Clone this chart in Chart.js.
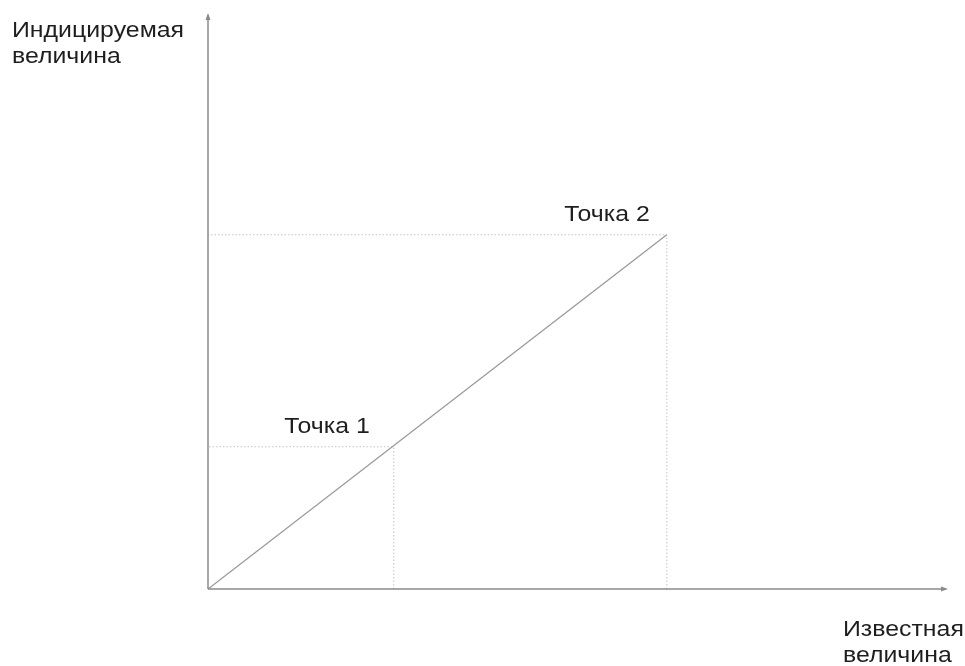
<!DOCTYPE html>
<html>
<head>
<meta charset="utf-8">
<script src="https://cdn.jsdelivr.net/npm/chart.js@4"></script>
<style>
html,body{margin:0;padding:0;background:#fff;}
#wrap{width:965px;height:666px;position:relative;}
</style>
</head>
<body>
<div id="wrap"><canvas id="c" width="965" height="666"></canvas></div>
<script>
// Data
const axisRange = [0, 10];
const pointNames = ["Точка 1", "Точка 2"];
const knownValues = [2.51, 6.2];      // x: известная величина
const indicatedValues = [2.47, 6.15]; // y: индицируемая величина
const yAxisTitle = ["Индицируемая", "величина"];
const xAxisTitle = ["Известная", "величина"];

const FONT = '22px "Liberation Sans", Arial, sans-serif';
const STRETCH = 1.13;

const mainLine = [{x: 0, y: 0}, {x: knownValues[1], y: indicatedValues[1]}];
const guides = knownValues.map((v, i) => [
  {x: v, y: 0}, {x: v, y: indicatedValues[i]}, {x: 0, y: indicatedValues[i]}
]);

function wideText(ctx, txt, x, y, align) {
  const w = ctx.measureText(txt).width * STRETCH;
  const left = align === 'right' ? x - w : x;
  ctx.save();
  ctx.translate(left, y);
  ctx.scale(STRETCH, 1);
  ctx.textAlign = 'left';
  ctx.fillText(txt, 0, 0);
  ctx.restore();
}

const decor = {
  id: 'decor',
  afterDatasetsDraw(chart) {
    const ctx = chart.ctx;
    const a = chart.chartArea;
    const xs = chart.scales.x, ys = chart.scales.y;
    const ox = xs.getPixelForValue(0), oy = ys.getPixelForValue(0);
    ctx.save();
    // axes
    ctx.strokeStyle = '#8a8a8a';
    ctx.fillStyle = '#8a8a8a';
    ctx.lineWidth = 1.5;
    ctx.beginPath();
    ctx.moveTo(ox, oy); ctx.lineTo(a.right - 2, oy);
    ctx.moveTo(ox, oy); ctx.lineTo(ox, a.top + 2);
    ctx.stroke();
    // arrowheads
    ctx.beginPath();
    ctx.moveTo(a.right, oy); ctx.lineTo(a.right - 7, oy - 2.5); ctx.lineTo(a.right - 7, oy + 2.5); ctx.closePath();
    ctx.fill();
    ctx.beginPath();
    ctx.moveTo(ox, a.top); ctx.lineTo(ox - 2.5, a.top + 7); ctx.lineTo(ox + 2.5, a.top + 7); ctx.closePath();
    ctx.fill();
    // texts
    ctx.fillStyle = '#1e1e1e';
    ctx.font = FONT;
    ctx.textBaseline = 'alphabetic';
    wideText(ctx, yAxisTitle[0], 12, 37);
    wideText(ctx, yAxisTitle[1], 12, 63);
    wideText(ctx, xAxisTitle[0], 843, 636);
    wideText(ctx, xAxisTitle[1], 843, 662);
    const offs = [-24, -17];
    pointNames.forEach((n, i) => {
      const px = xs.getPixelForValue(knownValues[i]);
      const py = ys.getPixelForValue(indicatedValues[i]);
      wideText(ctx, n, px + offs[i], py - 14, 'right');
    });
    ctx.restore();
  }
};

new Chart(document.getElementById('c'), {
  type: 'scatter',
  data: {
    datasets: [
      {data: mainLine, showLine: true, borderColor: '#9a9a9a', borderWidth: 1.3, pointRadius: 0},
      ...guides.map(g => ({data: g, showLine: true, borderColor: '#c4c4c4', borderWidth: 1, borderDash: [1.5, 2], pointRadius: 0}))
    ]
  },
  options: {
    responsive: false,
    animation: false,
    events: [],
    layout: {padding: {left: 208, right: 17, top: 13, bottom: 77}},
    plugins: {legend: {display: false}, tooltip: {enabled: false}},
    scales: {
      x: {type: 'linear', display: false, min: axisRange[0], max: axisRange[1]},
      y: {type: 'linear', display: false, min: axisRange[0], max: axisRange[1]}
    }
  },
  plugins: [decor]
});
</script>
</body>
</html>
